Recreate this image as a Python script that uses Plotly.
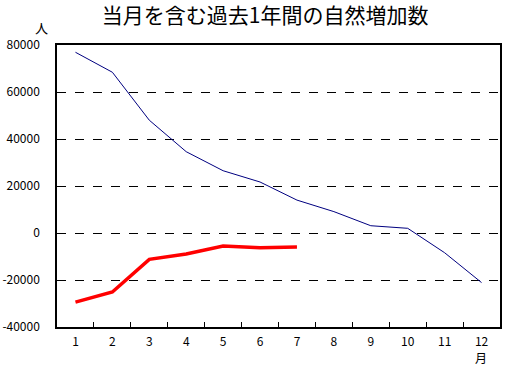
import plotly.graph_objects as go

months = [1, 2, 3, 4, 5, 6, 7, 8, 9, 10, 11, 12]
month_labels = ["1", "2", "3", "4", "5", "6", "7", "8", "9", "10", "11", "12"]
prev_year = [76900, 68400, 48000, 34600, 26500, 21700, 14000, 9100, 3100, 2000, -8400, -21100]
this_year = [-29400, -25100, -11200, -8900, -5500, -6300, -6000]
y_ticks = [-40000, -20000, 0, 20000, 40000, 60000, 80000]
y_labels = ["-40000", "-20000", "0", "20000", "40000", "60000", "80000"]

font_jp = "Noto Sans CJK JP"
boundaries = [m + 0.5 for m in months]

fig = go.Figure()
fig.add_trace(go.Scatter(x=months, y=prev_year, mode="lines",
                         line=dict(color="#000080", width=1), showlegend=False))
fig.add_trace(go.Scatter(x=months[:len(this_year)], y=this_year, mode="lines",
                         line=dict(color="#FF0000", width=3.5), showlegend=False))
# empty helper trace so the thin tick-mark strip axis pair is rendered
fig.add_trace(go.Scatter(x=[None], y=[None], xaxis="x3", yaxis="y3", mode="lines",
                         showlegend=False, hoverinfo="skip"))

fig.update_layout(
    width=505, height=366,
    margin=dict(l=57, r=5, t=45, b=39, autoexpand=False),
    paper_bgcolor="white", plot_bgcolor="rgba(0,0,0,0)",
    font=dict(family=font_jp, size=12, color="black"),
    title=dict(text="当月を含む過去1年間の自然増加数", x=0.525, xanchor="center",
               y=0.958, yanchor="middle", font=dict(family=font_jp, size=21, color="black")),
    xaxis=dict(range=[0.5, 12.5], automargin=False,
               tickvals=months, ticktext=month_labels, ticks="",
               showgrid=False, showline=True, linecolor="black", linewidth=1.5,
               mirror=True, zeroline=False, ticklabelstandoff=3,
               tickfont=dict(family=font_jp, size=12)),
    yaxis=dict(range=[-40000, 80000], tickvals=y_ticks, ticktext=y_labels, ticks="",
               automargin=False,
               showgrid=True, gridcolor="black", griddash="dash", gridwidth=1,
               showline=True, linecolor="black", linewidth=1.5, mirror=True,
               zeroline=False, ticklabelstandoff=13,
               tickfont=dict(family=font_jp, size=12)),
    # thin strip at the bottom of the plot whose vertical grid lines act as tick marks
    xaxis3=dict(range=[0.5, 12.5], domain=[0, 1], anchor="y3", automargin=False,
                tickvals=boundaries, showgrid=True, gridcolor="black", gridwidth=1,
                showticklabels=False, ticks="", showline=False, zeroline=False),
    yaxis3=dict(range=[0, 1], domain=[0, 0.017], anchor="x3", automargin=False,
                showgrid=False, showticklabels=False, ticks="", showline=False,
                zeroline=False),
    annotations=[
        dict(text="人", xref="paper", yref="paper", x=-0.036, y=1.063,
             xanchor="center", yanchor="middle", showarrow=False,
             font=dict(family=font_jp, size=13)),
        dict(text="月", xref="paper", yref="paper", x=0.956, y=-0.107,
             xanchor="center", yanchor="middle", showarrow=False,
             font=dict(family=font_jp, size=12)),
    ],
)

fig.write_html("out.html", config={"displayModeBar": False},
               post_script="document.body.style.margin='0';")
